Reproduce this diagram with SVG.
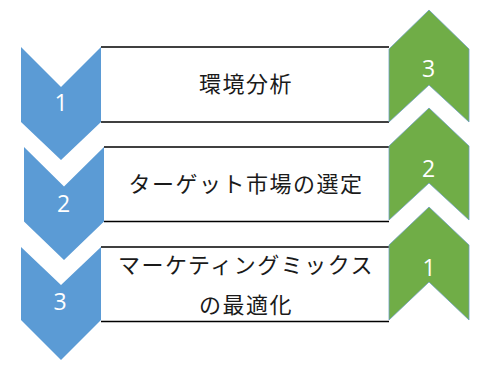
<svg xmlns="http://www.w3.org/2000/svg" width="487" height="365" viewBox="0 0 487 365">
<style>
.box{fill:#ffffff;stroke:none}
.edge{stroke:#000000;stroke-width:1.5}
.blue{fill:#5b9bd5}
.green{fill:#70ad47;stroke:#6f9fc0;stroke-width:0.8}
.num{font-family:"Open Sans","Noto Sans",sans-serif;font-size:23px;fill:#ffffff;text-anchor:middle}
.lbl{font-family:"Noto Sans CJK JP",sans-serif;font-size:22px;fill:#1a1a1a;text-anchor:middle;letter-spacing:1.5px}
</style>
<rect width="487" height="365" fill="#ffffff"/>
<g id="connectors">
<line class="edge" x1="101" y1="47" x2="389" y2="47"/>
<line class="edge" x1="101" y1="122" x2="389" y2="122"/>
<line class="edge" x1="104" y1="147" x2="389" y2="147"/>
<line class="edge" x1="104" y1="221.5" x2="389" y2="221.5"/>
<line class="edge" x1="101" y1="247" x2="389" y2="247"/>
<line class="edge" x1="101" y1="321.5" x2="389" y2="321.5"/>
</g>
<g id="step1">
<polygon class="blue" points="21,47 61,87 101,47 101,122 61,160 21,122"/>
<text class="num" x="61" y="111">1</text>
<text class="lbl" x="246" y="92">環境分析</text>
</g>
<g id="step2">
<polygon class="blue" points="24,147 64,186.5 104,147 104,221.5 64,260 24,221.5"/>
<text class="num" x="63.5" y="212">2</text>
<text class="lbl" x="246" y="192">ターゲット市場の選定</text>
</g>
<g id="step3">
<polygon class="blue" points="21,247 61,285 101,247 101,320 61,360 21,320"/>
<text class="num" x="60" y="310">3</text>
<text class="lbl" x="246" y="273">マーケティングミックス</text>
<text class="lbl" x="246" y="313">の最適化</text>
</g>
<g id="rank3">
<polygon class="green" points="389,49 429,10 469,49 469,122 429,85 389,122"/>
<text class="num" x="428.5" y="77">3</text>
</g>
<g id="rank2">
<polygon class="green" points="389,146 429,108 469,146 469,220 429,183 389,220"/>
<text class="num" x="428.5" y="177">2</text>
</g>
<g id="rank1">
<polygon class="green" points="389,245 429,207 469,245 469,320 429,282 389,320"/>
<text class="num" x="429" y="276">1</text>
</g>
</svg>
